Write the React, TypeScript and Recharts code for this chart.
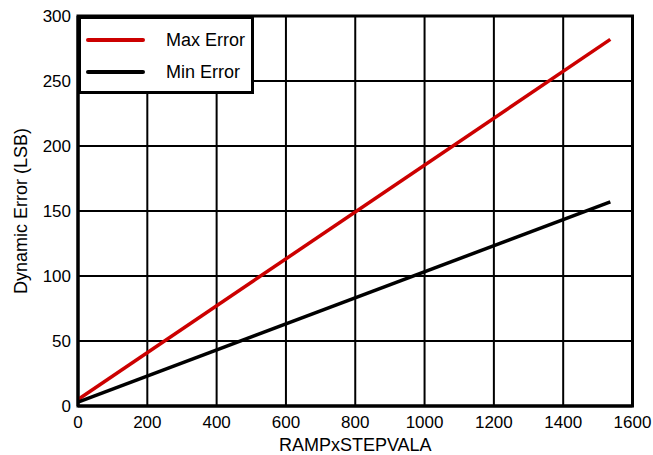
import React from 'react';
import { LineChart, Line, XAxis, YAxis, CartesianGrid, ReferenceArea, Legend } from 'recharts';

const rampStep = [0, 1536];
const maxError = [5, 282];
const minError = [3, 157];
const xTicks = [0, 200, 400, 600, 800, 1000, 1200, 1400, 1600];
const yTicks = [0, 50, 100, 150, 200, 250, 300];
const seriesNames = ['Max Error', 'Min Error'];

const data = rampStep.map((x, i) => ({ x, max: maxError[i], min: minError[i] }));

const FONT = '"Liberation Sans", Arial, sans-serif';

const LegendBox = (props: any) => {
  const payload = props.payload || [];
  return (
    <div
      style={{
        width: 176,
        height: 78,
        boxSizing: 'border-box',
        border: '3px solid #000',
        background: '#fff',
        position: 'relative',
        fontFamily: FONT,
        fontSize: 18,
        color: '#000',
      }}
    >
      {payload.map((p: any, i: number) => (
        <React.Fragment key={p.value}>
          <div
            style={{
              position: 'absolute',
              left: 5,
              top: 19 + i * 32,
              width: 59,
              height: 4,
              borderRadius: 2,
              background: p.color,
            }}
          />
          <div
            style={{
              position: 'absolute',
              left: 85,
              top: 11 + i * 32,
              lineHeight: '20px',
              whiteSpace: 'nowrap',
            }}
          >
            {p.value}
          </div>
        </React.Fragment>
      ))}
    </div>
  );
};

const YLabel = (props: any) => {
  const vb = props.viewBox || { x: 0, y: 16, width: 78, height: 390 };
  const cy = vb.y + vb.height / 2;
  const x = 26.7;
  return (
    <text
      x={x}
      y={cy}
      transform={`rotate(-90, ${x}, ${cy})`}
      textAnchor="middle"
      fontFamily={FONT}
      fontSize={18}
      fill="#000"
    >
      Dynamic Error (LSB)
    </text>
  );
};

export default function App() {
  return (
    <div style={{ position: 'absolute', left: 0, top: 0 }}>
      <LineChart
        width={653}
        height={455}
        data={data}
        margin={{ top: 16, right: 20.5, left: 0, bottom: 0 }}
      >
        <CartesianGrid stroke="#000" strokeWidth={2} vertical horizontal />
        <XAxis
          dataKey="x"
          type="number"
          domain={[0, 1600]}
          ticks={xTicks}
          interval={0}
          height={49}
          tickLine={false}
          tickSize={0}
          tickMargin={10}
          axisLine={{ stroke: '#000', strokeWidth: 3 }}
          tick={{ fill: '#000', fontSize: 17, fontFamily: FONT }}
          label={{
            value: 'RAMPxSTEPVALA',
            position: 'insideBottom',
            offset: 4,
            fill: '#000',
            fontSize: 18,
            fontFamily: FONT,
          }}
        />
        <YAxis
          type="number"
          domain={[0, 300]}
          ticks={yTicks}
          interval={0}
          width={78}
          tickLine={false}
          tickSize={0}
          tickMargin={7}
          axisLine={{ stroke: '#000', strokeWidth: 3 }}
          tick={{ fill: '#000', fontSize: 17, fontFamily: FONT }}
          label={<YLabel />}
        />
        <ReferenceArea
          x1={0}
          x2={1600}
          y1={0}
          y2={300}
          fill="none"
          fillOpacity={0}
          stroke="#000"
          strokeWidth={3}
          strokeOpacity={1}
        />
        <Line
          dataKey="max"
          name={seriesNames[0]}
          stroke="#cc0000"
          strokeWidth={3.5}
          dot={false}
          isAnimationActive={false}
        />
        <Line
          dataKey="min"
          name={seriesNames[1]}
          stroke="#000"
          strokeWidth={3.5}
          dot={false}
          isAnimationActive={false}
        />
        <Legend
          verticalAlign="middle"
          align="center"
          layout="horizontal"
          content={<LegendBox />}
          wrapperStyle={{ left: 78, top: 16, width: 176, height: 78, right: 'auto', bottom: 'auto' }}
        />
      </LineChart>
    </div>
  );
}
